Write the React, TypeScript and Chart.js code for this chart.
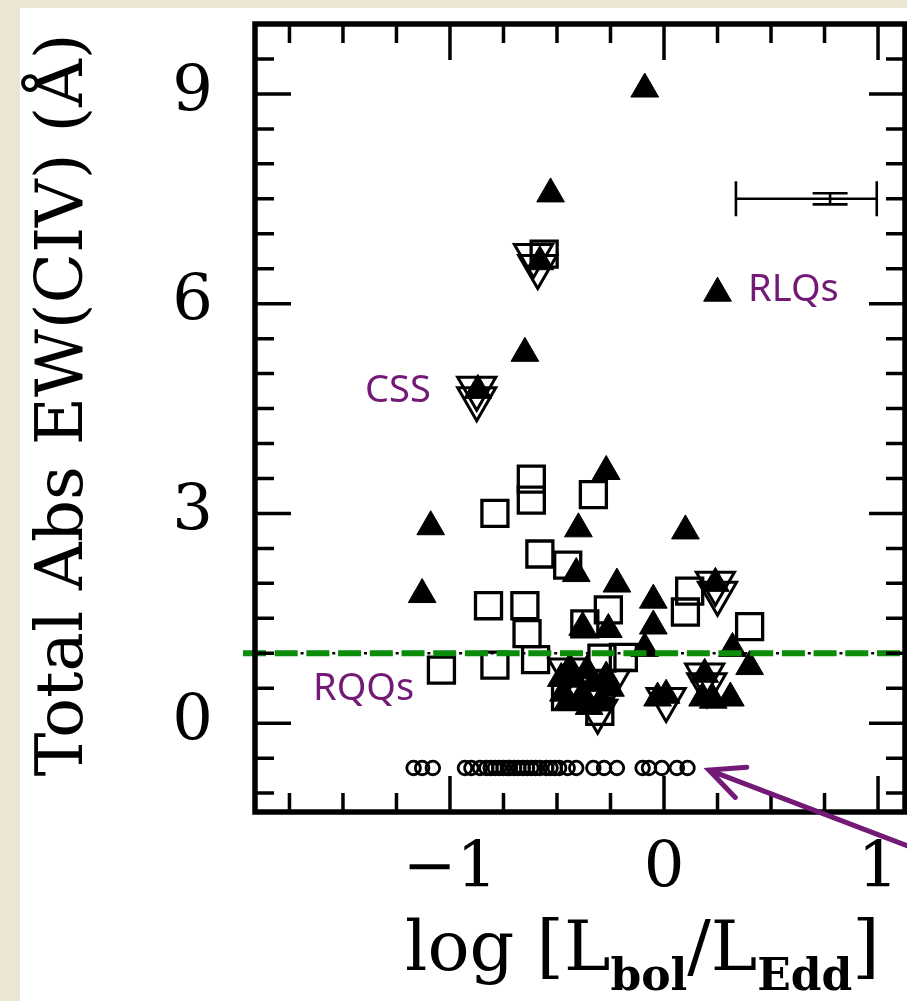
import { useEffect, useRef } from "react";
import { Chart, registerables } from "chart.js";

Chart.register(...registerables);

const W = 907;
const H = 1001;
// Plot frame in canvas pixels
const FRAME = { left: 255, top: 24, right: 905, bottom: 812 };

// Radio-loud quasars (filled triangles)
const rlqX = [-0.09, -0.53, 0.25, -0.58, -0.65, -0.87, -0.27, -1.09, -0.4, 0.1, -0.41, -0.22, 0.24, -1.13, -0.05, -0.38, -0.26, -0.05, -0.09, 0.32, 0.4, -0.48, -0.47, -0.42, -0.33, -0.25, -0.3, -0.38, -0.03, 0.01, 0.19, 0.18, 0.31, 0.23, -0.44, -0.36, -0.27, -0.45, -0.35];
const rlqY = [9.07, 7.57, 6.15, 6.6, 5.29, 4.76, 3.6, 2.81, 2.78, 2.75, 2.14, 1.99, 2.0, 1.84, 1.76, 1.37, 1.34, 1.39, 1.07, 1.07, 0.81, 0.64, 0.43, 0.63, 0.57, 0.5, 0.29, 0.41, 0.36, 0.4, 0.7, 0.36, 0.36, 0.33, 0.78, 0.75, 0.66, 0.3, 0.24];

// Radio-quiet quasars (open squares)
const rqqX = [-0.56, -0.62, -0.62, -0.79, -0.33, -0.58, -0.45, -0.82, -0.65, -0.64, -0.26, -0.37, 0.12, 0.1, 0.4, -1.04, -0.79, -0.6, -0.46, -0.3, -0.19, -0.29];
const rqqY = [6.71, 3.49, 3.19, 3.0, 3.27, 2.42, 2.26, 1.68, 1.68, 1.28, 1.62, 1.42, 1.89, 1.59, 1.38, 0.76, 0.83, 0.91, 0.38, 0.17, 0.94, 0.93];

// Compact steep-spectrum sources (open inverted triangles)
const cssX = [-0.61, -0.59, -0.875, -0.875, 0.24, 0.25, 0.19, 0.2, 0.01, -0.31, -0.45, -0.25];
const cssY = [6.69, 6.53, 4.79, 4.64, 2.0, 1.86, 0.69, 0.55, 0.34, 0.17, 0.76, 0.6];

// Objects without detected absorption, parked in a row below zero (open circles)
const noAbsX = [-1.17, -1.13, -1.08, -0.93, -0.9, -0.86, -0.83, -0.81, -0.79, -0.77, -0.75, -0.73, -0.72, -0.7, -0.68, -0.66, -0.64, -0.62, -0.6, -0.58, -0.55, -0.53, -0.51, -0.49, -0.45, -0.41, -0.33, -0.28, -0.22, -0.1, -0.07, -0.01, 0.06, 0.11];
const noAbsLevel = -0.64;

// Axis ranges and ticks
const xRange = [-1.911, 1.126];
const yRange = [-1.27, 10.0];
const xTickValues = [-1, 0, 1];
const xTickLabels = ["\u22121", "0", "1"];
const yTickValues = [0, 3, 6, 9];
const yTickLabels = ["0", "3", "6", "9"];
const xMinorStep = 0.25;
const yMinorStep = 0.5;

// Dividing line between weak and strong absorbers
const divideLevel = 1.0;
const divideSpan = [-1.967, 1.2];

// Typical uncertainty
const errCenter = [0.776, 7.5];
const errXSpan = [0.336, 0.994];
const errYHalf = 0.08;

// Annotation labels: text, x, y (baseline)
const noteText = ["RLQs", "CSS", "RQQs"];
const noteX = [0.393, -1.397, -1.64];
const noteY = [6.04, 4.59, 0.33];
// Arrow pointing at the undetected row: tail, head
const arrowFrom = [1.135, -1.75];
const arrowTo = [0.21, -0.67];

const PURPLE = "#731a77";
const GREEN = "#0b8c0b";
const SERIF = "'DejaVu Serif', serif";

const pts = (xs: number[], ys: number[]) => xs.map((x, i) => ({ x, y: ys[i] }));

const backgroundPlugin = {
  id: "paper",
  beforeDraw(chart: any) {
    const { ctx } = chart;
    ctx.save();
    ctx.fillStyle = "#ebe5d4";
    ctx.fillRect(0, 0, W, H);
    ctx.fillStyle = "#ffffff";
    ctx.fillRect(20, 8, W - 20, H - 8);
    ctx.restore();
  },
};

// Pin the plotting area to a fixed frame so the axes keep their spacing
const framePinPlugin = {
  id: "framePin",
  afterLayout(chart: any) {
    const area = chart.chartArea;
    area.left = FRAME.left;
    area.top = FRAME.top;
    area.right = FRAME.right;
    area.bottom = FRAME.bottom;
    area.width = FRAME.right - FRAME.left;
    area.height = FRAME.bottom - FRAME.top;
    const x = chart.scales.x;
    x.left = FRAME.left;
    x.right = FRAME.right;
    x.width = FRAME.right - FRAME.left;
    x.top = FRAME.bottom;
    x.bottom = H;
    x.height = H - FRAME.bottom;
    x.configure();
    const y = chart.scales.y;
    y.left = 0;
    y.right = FRAME.left;
    y.width = FRAME.left;
    y.top = FRAME.top;
    y.bottom = FRAME.bottom;
    y.height = FRAME.bottom - FRAME.top;
    y.configure();
  },
};

const isMajor = (v: number, majors: number[]) => majors.some((m) => Math.abs(m - v) < 1e-6);

const decorPlugin = {
  id: "decor",
  afterDatasetsDraw(chart: any) {
    const { ctx, scales } = chart;
    const x = scales.x;
    const y = scales.y;
    // error bar
    ctx.save();
    ctx.strokeStyle = "#000";
    ctx.lineWidth = 2.6;
    const cx = x.getPixelForValue(errCenter[0]);
    const cy = y.getPixelForValue(errCenter[1]);
    const xl = x.getPixelForValue(errXSpan[0]);
    const xh = x.getPixelForValue(errXSpan[1]);
    const yt = y.getPixelForValue(errCenter[1] + errYHalf);
    const yb = y.getPixelForValue(errCenter[1] - errYHalf);
    const cap = 17.5;
    ctx.beginPath();
    ctx.moveTo(xl, cy);
    ctx.lineTo(xh, cy);
    ctx.moveTo(xl, cy - cap);
    ctx.lineTo(xl, cy + cap);
    ctx.moveTo(xh, cy - cap);
    ctx.lineTo(xh, cy + cap);
    ctx.moveTo(cx - cap, yt);
    ctx.lineTo(cx + cap, yt);
    ctx.moveTo(cx - cap, yb);
    ctx.lineTo(cx + cap, yb);
    ctx.moveTo(cx, yt);
    ctx.lineTo(cx, yb);
    ctx.stroke();
    ctx.restore();
  },
  afterDraw(chart: any) {
    const { ctx, chartArea: a, scales } = chart;
    const x = scales.x;
    const y = scales.y;
    ctx.save();
    ctx.strokeStyle = "#000";
    ctx.lineCap = "butt";
    ctx.lineWidth = 3.5;
    ctx.beginPath();
    for (let v = Math.ceil(xRange[0] / xMinorStep) * xMinorStep; v <= xRange[1] + 1e-9; v += xMinorStep) {
      const px = x.getPixelForValue(v);
      const len = isMajor(v, xTickValues) ? 36 : 19;
      ctx.moveTo(px, a.bottom);
      ctx.lineTo(px, a.bottom - len);
      ctx.moveTo(px, a.top);
      ctx.lineTo(px, a.top + len);
    }
    for (let v = Math.ceil(yRange[0] / yMinorStep) * yMinorStep; v <= yRange[1] - 1e-9; v += yMinorStep) {
      const py = y.getPixelForValue(v);
      const len = isMajor(v, yTickValues) ? 36 : 19;
      ctx.moveTo(a.left, py);
      ctx.lineTo(a.left + len, py);
      ctx.moveTo(a.right, py);
      ctx.lineTo(a.right - len, py);
    }
    ctx.stroke();
    ctx.lineWidth = 5.5;
    ctx.strokeRect(a.left, a.top, a.right - a.left, a.bottom - a.top);

    // annotation labels
    ctx.fillStyle = PURPLE;
    ctx.font = "38px 'Noto Sans', sans-serif";
    ctx.textBaseline = "alphabetic";
    ctx.textAlign = "left";
    noteText.forEach((t, i) => {
      ctx.fillText(t, x.getPixelForValue(noteX[i]), y.getPixelForValue(noteY[i]));
    });

    // arrow
    const hx = x.getPixelForValue(arrowTo[0]);
    const hy = y.getPixelForValue(arrowTo[1]);
    const tx = x.getPixelForValue(arrowFrom[0]);
    const ty = y.getPixelForValue(arrowFrom[1]);
    const ang = Math.atan2(ty - hy, tx - hx);
    const barb = 38;
    const spread = 0.44;
    ctx.strokeStyle = PURPLE;
    ctx.lineWidth = 5;
    ctx.lineCap = "round";
    ctx.beginPath();
    ctx.moveTo(tx, ty);
    ctx.lineTo(hx, hy);
    ctx.moveTo(hx + barb * Math.cos(ang - spread), hy + barb * Math.sin(ang - spread));
    ctx.lineTo(hx, hy);
    ctx.lineTo(hx + barb * Math.cos(ang + spread), hy + barb * Math.sin(ang + spread));
    ctx.stroke();

    // axis titles
    ctx.fillStyle = "#000";
    ctx.save();
    ctx.translate(82, 405);
    ctx.rotate(-Math.PI / 2);
    ctx.textAlign = "center";
    ctx.font = `66px ${SERIF}`;
    ctx.fillText("Total Abs EW(CIV) (\u00C5)", 0, 0);
    ctx.restore();

    ctx.textAlign = "left";
    const main = `70px ${SERIF}`;
    const sub = `bold 44px ${SERIF}`;
    const parts: [string, string, number][] = [
      ["log [L", main, 970],
      ["bol", sub, 990],
      ["/L", main, 970],
      ["Edd", sub, 990],
      ["]", main, 970],
    ];
    let cursor = 405;
    for (const [t, f, base] of parts) {
      ctx.font = f;
      ctx.fillText(t, cursor, base);
      cursor += ctx.measureText(t).width;
    }
    ctx.restore();
  },
};

export default function App() {
  const ref = useRef<HTMLCanvasElement>(null);

  useEffect(() => {
    const canvas = ref.current;
    if (!canvas) return;
    const chart = new Chart(canvas, {
      type: "scatter",
      data: {
        datasets: [
          {
            type: "line",
            label: "divide",
            data: [
              { x: divideSpan[0], y: divideLevel },
              { x: divideSpan[1], y: divideLevel },
            ],
            borderColor: GREEN,
            borderWidth: 6,
            borderDash: [23, 8.7],
            pointRadius: 0,
            clip: false,
          } as any,
          {
            type: "line",
            label: "divideDots",
            data: [
              { x: divideSpan[0], y: divideLevel },
              { x: divideSpan[1], y: divideLevel },
            ],
            borderColor: "#000",
            borderWidth: 2.5,
            borderDash: [3, 28.7],
            borderDashOffset: 5.85,
            pointRadius: 0,
            clip: false,
          } as any,
          {
            label: "RLQ",
            data: pts(rlqX, rlqY),
            pointStyle: "triangle",
            pointRadius: 16,
            backgroundColor: "#000",
            borderColor: "#000",
            borderWidth: 1,
          },
          {
            label: "CSS",
            data: pts(cssX, cssY),
            pointStyle: "triangle",
            pointRotation: 180,
            pointRadius: 22,
            backgroundColor: "rgba(0,0,0,0)",
            borderColor: "#000",
            borderWidth: 3,
          },
          {
            label: "RQQ",
            data: pts(rqqX, rqqY),
            pointStyle: "rect",
            pointRadius: 18.4,
            backgroundColor: "rgba(0,0,0,0)",
            borderColor: "#000",
            borderWidth: 3.3,
          },
          {
            label: "undetected",
            data: noAbsX.map((x) => ({ x, y: noAbsLevel })),
            pointStyle: "circle",
            pointRadius: 6.8,
            backgroundColor: "rgba(0,0,0,0)",
            borderColor: "#000",
            borderWidth: 2.8,
          },
        ],
      },
      options: {
        responsive: false,
        animation: false,
        devicePixelRatio: 1,
        events: [],
        layout: { padding: { left: 0, top: FRAME.top, right: W - FRAME.right, bottom: 0 } },
        plugins: { legend: { display: false }, tooltip: { enabled: false } },
        scales: {
          x: {
            type: "linear",
            min: xRange[0],
            max: xRange[1],
            grid: { display: false, drawTicks: false },
            border: { display: false },
            afterBuildTicks: (s: any) => {
              s.ticks = xTickValues.map((value) => ({ value }));
            },
            afterFit: (s: any) => {
              s.height = H - FRAME.bottom;
            },
            ticks: {
              color: "#000",
              font: { family: SERIF, size: 64 },
              padding: 20,
              maxRotation: 0,
              autoSkip: false,
              callback: (v: any) => xTickLabels[xTickValues.indexOf(Number(v))] ?? "",
            },
          },
          y: {
            type: "linear",
            min: yRange[0],
            max: yRange[1],
            grid: { display: false, drawTicks: false },
            border: { display: false },
            afterBuildTicks: (s: any) => {
              s.ticks = yTickValues.map((value) => ({ value }));
            },
            afterFit: (s: any) => {
              s.width = FRAME.left;
            },
            ticks: {
              color: "#000",
              font: { family: SERIF, size: 64 },
              padding: 42,
              autoSkip: false,
              callback: (v: any) => yTickLabels[yTickValues.indexOf(Number(v))] ?? "",
            },
          },
        },
      },
      plugins: [backgroundPlugin, framePinPlugin, decorPlugin],
    });
    return () => chart.destroy();
  }, []);

  return (
    <div style={{ position: "absolute", left: 0, top: 0, width: W, height: H }}>
      <canvas ref={ref} width={W} height={H} style={{ display: "block", width: W, height: H }} />
    </div>
  );
}
